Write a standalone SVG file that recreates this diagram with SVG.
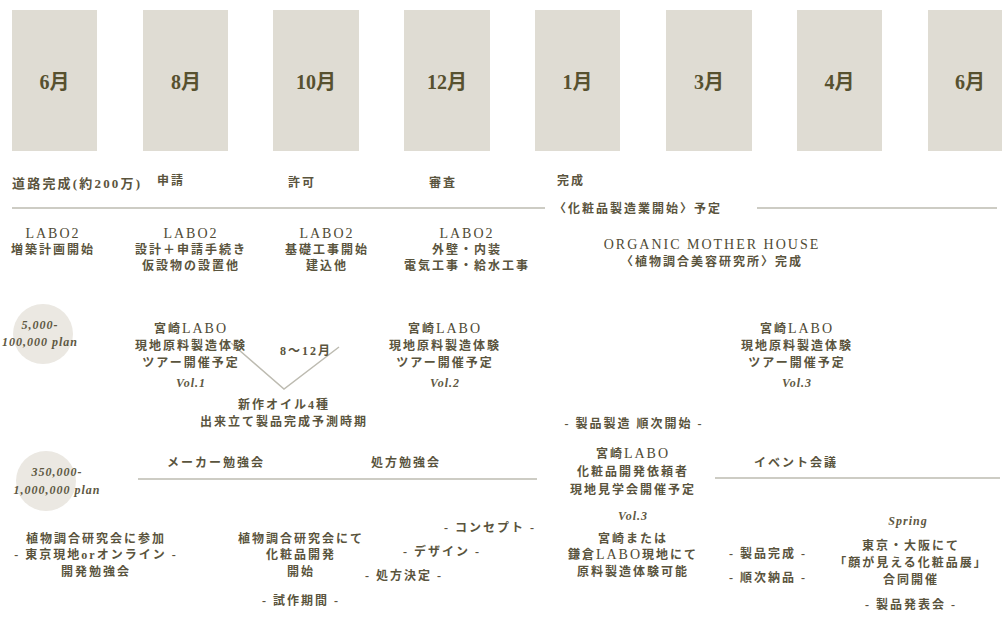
<svg xmlns="http://www.w3.org/2000/svg" width="1002" height="617" viewBox="0 0 1002 617">
<style>
.box{fill:#dfdcd3}
.m{font-family:"Liberation Serif","Noto Sans CJK JP",serif;font-size:20px;font-weight:bold;fill:#57512f;text-anchor:middle}
.t{font-family:"Liberation Serif","Noto Sans CJK JP",serif;font-size:12px;font-weight:bold;fill:#5a543d;text-anchor:middle;letter-spacing:2px}
.s{font-family:"Liberation Serif","Noto Sans CJK JP",serif;font-size:13px;font-weight:bold;fill:#5a543d}
.L{font-size:14px;font-weight:normal;fill:#4f4a35}
.sc{font-family:"Liberation Serif",serif;font-style:italic;font-weight:bold;font-size:12px;fill:#5e5842;text-anchor:middle;letter-spacing:1px}
.ln{stroke:#bdbbb1;stroke-width:1.5;fill:none}
.circ{fill:#ebe8e2}
</style>
<rect width="1002" height="617" fill="#ffffff"/>
<g id="months">
<g id="m1"><rect class="box" x="12" y="10" width="85" height="141"/><text class="m" x="54.5" y="89">6月</text></g>
<g id="m2"><rect class="box" x="143" y="10" width="85" height="141"/><text class="m" x="186" y="89">8月</text></g>
<g id="m3"><rect class="box" x="273" y="10" width="86" height="141"/><text class="m" x="316" y="89">10月</text></g>
<g id="m4"><rect class="box" x="404" y="10" width="86" height="141"/><text class="m" x="447" y="89">12月</text></g>
<g id="m5"><rect class="box" x="535" y="10" width="85" height="141"/><text class="m" x="577.5" y="89">1月</text></g>
<g id="m6"><rect class="box" x="666" y="10" width="86" height="141"/><text class="m" x="709" y="89">3月</text></g>
<g id="m7"><rect class="box" x="797" y="10" width="85" height="141"/><text class="m" x="839.5" y="89">4月</text></g>
<g id="m8"><rect class="box" x="928" y="10" width="85" height="141"/><text class="m" x="970" y="89">6月</text></g>
</g>
<g id="connectors">
<line class="ln" x1="12" y1="208" x2="545" y2="208"/>
<line class="ln" x1="757" y1="208" x2="997" y2="208"/>
<line class="ln" x1="138" y1="479" x2="537" y2="479"/>
<line class="ln" x1="715" y1="478" x2="1000" y2="478"/>
<polyline class="ln" points="231,343 284,389 339,347"/>
</g>
<g id="row1">
<text class="s" x="12" y="188" textLength="128">道路完成(約200万)</text>
<text class="t" x="171" y="185">申請</text>
<text class="t" x="302" y="187">許可</text>
<text class="t" x="443" y="187">審査</text>
<text class="t" x="571" y="185">完成</text>
<text class="t" x="638" y="213">〈化粧品製造業開始〉予定</text>
</g>
<g id="labo-a"><text class="t L" x="53" y="238">LABO2</text><text class="t" x="53" y="254">増築計画開始</text></g>
<g id="labo-b"><text class="t L" x="191" y="238">LABO2</text><text class="t" x="191" y="254">設計＋申請手続き</text><text class="t" x="191" y="270">仮設物の設置他</text></g>
<g id="labo-c"><text class="t L" x="327" y="238">LABO2</text><text class="t" x="327" y="254">基礎工事開始</text><text class="t" x="327" y="270">建込他</text></g>
<g id="labo-d"><text class="t L" x="467" y="238">LABO2</text><text class="t" x="467" y="254">外壁・内装</text><text class="t" x="467" y="270">電気工事・給水工事</text></g>
<g id="omh"><text class="t L" x="712" y="249" letter-spacing="2.2">ORGANIC MOTHER HOUSE</text><text class="t" x="712" y="266">〈植物調合美容研究所〉完成</text></g>
<g id="plan1"><circle class="circ" cx="43" cy="334" r="30"/><text class="sc" x="40" y="329">5,000-</text><text class="sc" x="40" y="346">100,000 plan</text></g>
<g id="tour1"><text class="t" x="191" y="333">宮崎<tspan class="L">LABO</tspan></text><text class="t" x="191" y="350">現地原料製造体験</text><text class="t" x="191" y="367">ツアー開催予定</text><text class="sc" x="191" y="387">Vol.1</text></g>
<g id="period"><text class="t" x="306" y="355" font-size="14" letter-spacing="1" font-weight="normal">8～12月</text></g>
<g id="oil"><text class="t" x="284" y="409" font-size="11" letter-spacing="1.5">新作オイル4種</text><text class="t" x="284" y="426" font-size="11" letter-spacing="1.5">出来立て製品完成予測時期</text></g>
<g id="tour2"><text class="t" x="445" y="333">宮崎<tspan class="L">LABO</tspan></text><text class="t" x="445" y="350">現地原料製造体験</text><text class="t" x="445" y="367">ツアー開催予定</text><text class="sc" x="445" y="387">Vol.2</text></g>
<g id="tour3"><text class="t" x="797" y="333">宮崎<tspan class="L">LABO</tspan></text><text class="t" x="797" y="350">現地原料製造体験</text><text class="t" x="797" y="367">ツアー開催予定</text><text class="sc" x="797" y="387">Vol.3</text></g>
<g id="mfg"><text class="t" x="634" y="428">- 製品製造 順次開始 -</text></g>
<g id="plan2"><circle class="circ" cx="46" cy="481" r="30"/><text class="sc" x="57" y="476">350,000-</text><text class="sc" x="57" y="494">1,000,000 plan</text></g>
<g id="maker"><text class="t" x="216" y="467">メーカー勉強会</text></g>
<g id="rx"><text class="t" x="406" y="467">処方勉強会</text></g>
<g id="event"><text class="t" x="796" y="467">イベント会議</text></g>
<g id="visit"><text class="t" x="633" y="458">宮崎<tspan class="L">LABO</tspan></text><text class="t" x="633" y="476">化粧品開発依頼者</text><text class="t" x="633" y="494">現地見学会開催予定</text><text class="sc" x="633" y="520">Vol.3</text><text class="t" x="633" y="543">宮崎または</text><text class="t" x="633" y="559">鎌倉<tspan class="L">LABO</tspan>現地にて</text><text class="t" x="633" y="576">原料製造体験可能</text></g>
<g id="study"><text class="t" x="96" y="543">植物調合研究会に参加</text><text class="t" x="96" y="559">- 東京現地orオンライン -</text><text class="t" x="96" y="576">開発勉強会</text></g>
<g id="dev"><text class="t" x="301" y="543">植物調合研究会にて</text><text class="t" x="301" y="559">化粧品開発</text><text class="t" x="301" y="576">開始</text><text class="t" x="301" y="605">- 試作期間 -</text></g>
<g id="steps"><text class="t" x="490" y="532">- コンセプト -</text><text class="t" x="442" y="556">- デザイン -</text><text class="t" x="404" y="580">- 処方決定 -</text></g>
<g id="deliver"><text class="t" x="768" y="558">- 製品完成 -</text><text class="t" x="768" y="582">- 順次納品 -</text></g>
<g id="spring"><text class="sc" x="908" y="525">Spring</text><text class="t" x="911" y="550">東京・大阪にて</text><text class="t" x="911" y="567">「顔が見える化粧品展」</text><text class="t" x="911" y="584">合同開催</text><text class="t" x="911" y="609">- 製品発表会 -</text></g>
</svg>
